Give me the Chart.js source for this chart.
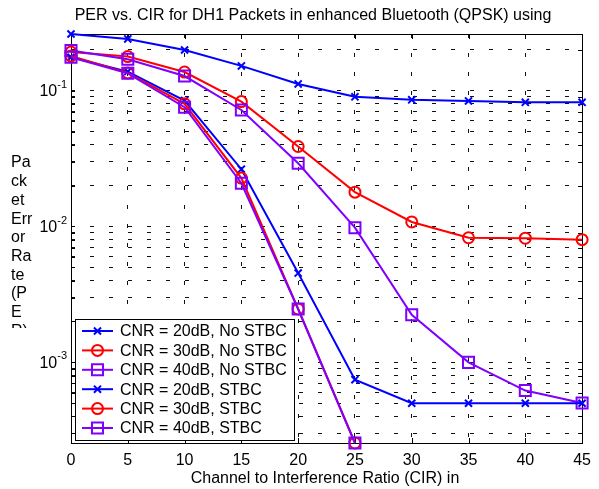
<!DOCTYPE html>
<html>
<head>
<meta charset="utf-8">
<script src="https://cdn.jsdelivr.net/npm/chart.js@4/dist/chart.umd.min.js"></script>
<style>
  html, body { margin: 0; padding: 0; background: #fff; }
  #wrap { position: relative; width: 599px; height: 489px; }
</style>
</head>
<body>
<div id="wrap"><canvas id="perChart" width="599" height="489"></canvas></div>
<script>
// CIR (dB) on the x axis
const cir = [0, 5, 10, 15, 20, 25, 30, 35, 40, 45];

// PER values
const per20NoStbc = [0.261, 0.240, 0.199, 0.152, 0.112, 0.090, 0.0855, 0.084, 0.082, 0.082];
const per30NoStbc = [0.192, 0.178, 0.137, 0.083, 0.0388, 0.0179, 0.0108, 0.00826, 0.0082, 0.0080];
const per40NoStbc = [0.197, 0.170, 0.128, 0.072, 0.0292, 0.0098, 0.00224, 0.00100, 0.00062, 0.000502];
const per20Stbc = [0.176, 0.138, 0.0845, 0.0264, 0.00454, 0.000746, 0.0005, 0.0005, 0.0005, 0.0005];
const per30Stbc = [0.180, 0.135, 0.080, 0.0227, 0.00247, 0.000255, null, null, null, null];
const per40Stbc = [0.176, 0.134, 0.0755, 0.0208, 0.00247, 0.000255, null, null, null, null];

const seriesNames = [
  "CNR = 20dB, No STBC",
  "CNR = 30dB, No STBC",
  "CNR = 40dB, No STBC",
  "CNR = 20dB, STBC",
  "CNR = 30dB, STBC",
  "CNR = 40dB, STBC"
];
const yTickDecades = [-1, -2, -3];
const yLabelLines = ["Pa", "ck", "et", "Err", "or", "Ra", "te", "(P", "E", "R)"];

const BLUE = "#0000ff", RED = "#ff0000", PURPLE = "#8000ff";
const FONT = "'Liberation Sans', Arial, Helvetica, sans-serif";

// ✅ 系列ごとのスタイル
const styles = [
  { color: BLUE, point: "crossRot", r: 5 },
  { color: RED, point: "circle", r: 5.5 },
  { color: PURPLE, point: "rect", r: 7.8 },
  { color: BLUE, point: "crossRot", r: 5 },
  { color: RED, point: "circle", r: 5.5 },
  { color: PURPLE, point: "rect", r: 7.8 }
];
const allSeries = [per20NoStbc, per30NoStbc, per40NoStbc, per20Stbc, per30Stbc, per40Stbc];

const datasets = allSeries.map((vals, i) => ({
  label: seriesNames[i],
  data: cir.map((x, j) => ({ x: x, y: vals[j] })),
  borderColor: styles[i].color,
  backgroundColor: "rgba(0,0,0,0)",
  borderWidth: 2,
  pointStyle: styles[i].point,
  pointRadius: styles[i].r,
  pointBorderWidth: 2,
  pointBorderColor: styles[i].color,
  pointBackgroundColor: "rgba(0,0,0,0)",
  tension: 0,
  spanGaps: false,
  clip: false,
  order: 5 - i
}));

// ✅ 凡例のマーカーを描く
function drawMarker(ctx, style, x, y) {
  ctx.beginPath();
  if (style.point === "circle") {
    ctx.arc(x, y, style.r, 0, Math.PI * 2);
  } else if (style.point === "rect") {
    const s = style.r / Math.SQRT2;
    ctx.rect(x - s, y - s, s * 2, s * 2);
  } else {
    const o = Math.cos(Math.PI / 4) * style.r;
    ctx.moveTo(x - o, y - o); ctx.lineTo(x + o, y + o);
    ctx.moveTo(x - o, y + o); ctx.lineTo(x + o, y - o);
  }
  ctx.stroke();
}

// ✅ 枠・目盛り・軸ラベル・タイトル
const framePlugin = {
  id: "frame",
  beforeDatasetsDraw(chart) {
    const ctx = chart.ctx, a = chart.chartArea;
    const xs = chart.scales.x, ys = chart.scales.y;
    ctx.save();
    ctx.strokeStyle = "#000";
    ctx.lineWidth = 1;
    ctx.strokeRect(Math.round(a.left) + 0.5, Math.round(a.top) + 0.5,
      Math.round(a.right - a.left), Math.round(a.bottom - a.top));

    // inner tick marks
    ctx.beginPath();
    cir.forEach(v => {
      const px = Math.round(xs.getPixelForValue(v)) + 0.5;
      ctx.moveTo(px, a.bottom); ctx.lineTo(px, a.bottom - 5);
      ctx.moveTo(px, a.top); ctx.lineTo(px, a.top + 5);
    });
    ys.ticks.forEach(t => {
      const py = Math.round(ys.getPixelForValue(t.value)) + 0.5;
      ctx.moveTo(a.left, py); ctx.lineTo(a.left + 4, py);
      ctx.moveTo(a.right, py); ctx.lineTo(a.right - 4, py);
    });
    ctx.stroke();

    // y tick labels 10^n
    ctx.fillStyle = "#000";
    ctx.textBaseline = "middle";
    yTickDecades.forEach(d => {
      const py = ys.getPixelForValue(Math.pow(10, d));
      ctx.font = "16px " + FONT;
      ctx.textAlign = "right";
      const exp = String(d);
      ctx.font = "11px " + FONT;
      const ew = ctx.measureText(exp).width;
      ctx.fillText(exp, a.left - 4, py - 6);
      ctx.font = "16px " + FONT;
      ctx.fillText("10", a.left - 4 - ew, py + 1);
    });

    // title
    ctx.textAlign = "center";
    ctx.font = "16px " + FONT;
    ctx.fillText("PER vs. CIR for DH1 Packets in enhanced Bluetooth (QPSK) using", 313, 16);
    // x title
    ctx.fillText("Channel to Interference Ratio (CIR) in", 325, 479);

    // y title (wrapped in a narrow column, cut off at the bottom)
    ctx.save();
    ctx.beginPath();
    ctx.rect(0, 140, 60, 188);
    ctx.clip();
    ctx.textAlign = "left";
    yLabelLines.forEach((s, i) => ctx.fillText(s, 11, 163 + i * 18.7));
    ctx.restore();
    ctx.restore();
  },
  afterDraw(chart) {
    const ctx = chart.ctx;
    ctx.save();
    const bx = 75.5, by = 319.5, bw = 219, bh = 121;
    ctx.fillStyle = "#fff";
    ctx.fillRect(bx, by, bw, bh);
    ctx.strokeStyle = "#000";
    ctx.lineWidth = 1;
    ctx.strokeRect(bx, by, bw, bh);
    ctx.font = "16px " + FONT;
    ctx.textBaseline = "middle";
    ctx.textAlign = "left";
    seriesNames.forEach((name, i) => {
      const y = 331 + i * 19.4;
      const st = styles[i];
      ctx.strokeStyle = st.color;
      ctx.lineWidth = 2;
      ctx.beginPath();
      ctx.moveTo(82, y); ctx.lineTo(113, y);
      ctx.stroke();
      drawMarker(ctx, st, 97.5, y);
      ctx.fillStyle = "#000";
      ctx.fillText(name, 120, y + 1);
    });
    ctx.restore();
  }
};

new Chart(document.getElementById("perChart"), {
  type: "line",
  data: { datasets: datasets },
  options: {
    responsive: false,
    animation: false,
    layout: { padding: { left: 71, right: 7, top: 34, bottom: 0 } },
    plugins: {
      legend: { display: false },
      title: { display: false },
      tooltip: { enabled: false }
    },
    scales: {
      x: {
        type: "linear",
        min: 0,
        max: 45,
        ticks: {
          stepSize: 5,
          color: "#000",
          font: { size: 16, family: FONT },
          padding: 8,
          maxRotation: 0
        },
        grid: { color: "#111", lineWidth: 1, drawTicks: false },
        border: { display: false, dash: [4, 15] },
        afterFit(scale) { scale.height = 46; }
      },
      y: {
        type: "logarithmic",
        min: 0.000255,
        max: 0.261,
        ticks: { display: false },
        grid: { color: "#111", lineWidth: 1, drawTicks: false },
        border: { display: false, dash: [4, 15] },
        afterBuildTicks(scale) {
          const t = [];
          [-4, -3, -2, -1].forEach(d => {
            for (let m = 1; m <= 9; m++) {
              const v = m * Math.pow(10, d);
              if (v > scale.min && v < scale.max) t.push({ value: v });
            }
          });
          scale.ticks = t;
        },
        afterFit(scale) { scale.width = 0; }
      }
    }
  },
  plugins: [framePlugin]
});
</script>
</body>
</html>
